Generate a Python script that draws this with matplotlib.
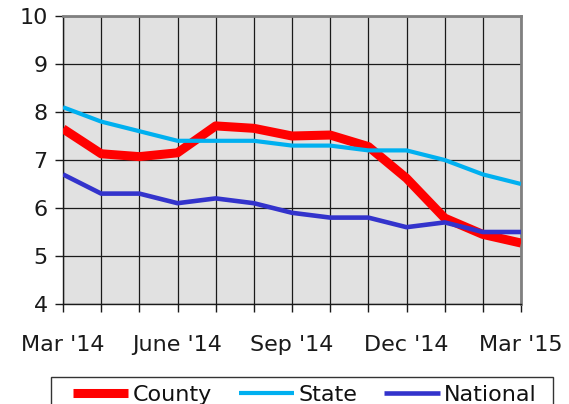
import matplotlib.pyplot as plt
import numpy as np
from matplotlib.patches import Rectangle

months = ["Mar '14", "Apr '14", "May '14", "June '14", "Jul '14", "Aug '14",
          "Sep '14", "Oct '14", "Nov '14", "Dec '14", "Jan '15", "Feb '15",
          "Mar '15"]
shown_labels = ["Mar '14", "June '14", "Sep '14", "Dec '14", "Mar '15"]

county = [7.65, 7.13, 7.07, 7.15, 7.71, 7.66, 7.50, 7.52, 7.28, 6.62, 5.79, 5.45, 5.27]
state = [8.1, 7.8, 7.6, 7.4, 7.4, 7.4, 7.3, 7.3, 7.2, 7.2, 7.0, 6.7, 6.5]
national = [6.7, 6.3, 6.3, 6.1, 6.2, 6.1, 5.9, 5.8, 5.8, 5.6, 5.7, 5.5, 5.5]

W, H = 569, 404
fig = plt.figure(figsize=(W / 100, H / 100), dpi=100)
ax = fig.add_axes([63 / W, 1 - 304 / H, (521 - 63) / W, (304 - 16) / H])
ax.set_facecolor('#e1e1e1')

x = np.arange(len(months))
ax.plot(x, county, color='#ff0000', lw=6.5, label='County', solid_capstyle='butt', zorder=3)
ax.plot(x, state, color='#00b0f0', lw=3, label='State', solid_capstyle='butt', zorder=4)
ax.plot(x, national, color='#3333cc', lw=3.3, label='National', solid_capstyle='butt', zorder=5)

ax.set_xlim(0, len(months) - 1)
ax.set_ylim(4, 10)
ax.set_xticks(x)
ax.set_xticklabels([m if m in shown_labels else '' for m in months])
ax.set_yticks(range(4, 11))
ax.grid(True, color='#1a1a1a', lw=0.9)
ax.set_axisbelow(True)

ax.tick_params(axis='both', direction='out', length=6, width=1, color='#1a1a1a',
               labelsize=16, labelcolor='#1a1a1a')
ax.tick_params(axis='x', pad=16)
ax.tick_params(axis='y', pad=5)

for side in ['left', 'bottom']:
    ax.spines[side].set_color('#1a1a1a')
    ax.spines[side].set_linewidth(1)
for side in ['top', 'right']:
    ax.spines[side].set_color('#808080')
    ax.spines[side].set_linewidth(2)

# legend box runs off the bottom of the image, like the original
fig.patches.append(Rectangle((51 / W, 1 - 412 / H), (553 - 51) / W, 35 / H,
                             transform=fig.transFigure, facecolor='white',
                             edgecolor='#333333', lw=1))
leg = fig.legend(loc='center', bbox_to_anchor=(305 / W, 1 - 395 / H),
                 ncol=3, fontsize=16, frameon=False,
                 handlelength=2.5, handletextpad=0.2, columnspacing=1.2,
                 borderaxespad=0, borderpad=0)
for t in leg.get_texts():
    t.set_color('#111111')

plt.savefig('out.png', dpi=100)
